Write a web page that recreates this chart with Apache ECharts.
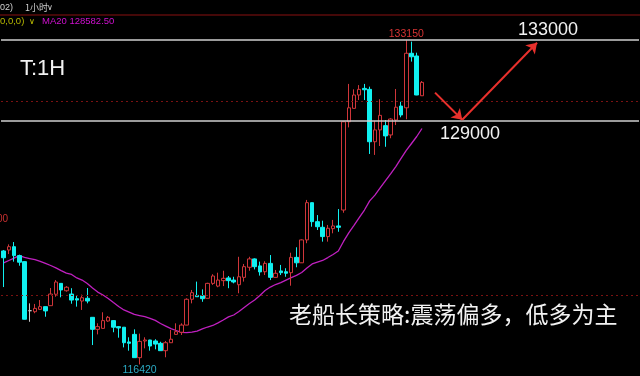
<!DOCTYPE html>
<html><head><meta charset="utf-8">
<script src="https://cdn.jsdelivr.net/npm/echarts@6/dist/echarts.min.js"></script>
<style>html,body{margin:0;padding:0;background:#000;}#c{width:640px;height:376px;}</style>
</head><body><div id="c"></div>
<script>
// ---- data (1H candles) ----
const opens = [122270,122320,122490,122030,121720,119190,119140,119260,119400,119450,
120040,120600,120220,120050,119810,119690,119830,118850,118230,118280,
118660,118680,118370,118340,117580,117970,116770,117630,117680,117630,
117510,117130,117540,117970,118080,118450,119780,119980,119960,119830,
120600,120460,120740,120880,120770,120530,120910,121430,121860,121500,
121200,121630,120910,121240,121200,121150,121940,121660,122840,124760,
123780,123490,123010,123420,123560,124380,128930,129620,130310,130650,
130600,127900,128510,128730,128250,129020,129740,129650,132460,132320,130270];
const closes = [121920,122490,122030,121690,118750,119190,119310,119400,119180,120050,
120670,120260,120400,119740,119740,119860,119690,118230,118370,118680,
118850,118340,118300,117540,117510,116770,117610,117680,117370,117470,
117130,117540,117720,118110,118450,119780,120120,119910,119810,120600,
120980,120770,120860,120740,120670,120940,121460,121860,121460,121190,
121630,120910,121120,121150,121120,121940,121660,122840,124760,123780,
123520,123010,123440,123560,123490,128930,129650,130310,130600,130580,
127900,128510,129260,128200,129070,129680,129280,132460,132280,130310,130960];
const lows = [120410,122110,121720,121510,118740,118620,119060,119230,118880,119440,
119910,119880,120170,119550,119400,119230,119570,117420,117970,118270,
118620,118080,117800,117300,117130,116760,116420,117250,117130,117200,
117120,116790,117530,117960,117940,118440,119570,119900,119650,119820,
120520,120400,120460,120350,120600,120090,120690,121250,121320,121000,
121030,120770,120900,121030,120940,120480,121430,121650,122670,123520,
123350,122750,122750,123180,123260,124240,128640,129610,130050,130050,
127270,127220,127680,127640,128080,128760,129160,129060,132030,130300,130260];
const highs = [122320,122610,122730,122080,121740,119570,119540,119740,119410,120360,
120770,120610,120460,120350,119950,120020,120360,118860,118540,119110,
118920,118690,118400,118350,117820,118230,118010,117820,117690,117720,
117590,117630,118200,118540,118540,119830,120260,120690,120290,120630,
121070,121150,121250,120980,120940,121970,121600,121970,121890,121720,
121740,122060,121290,121550,121380,122180,122460,122870,124900,124770,
124120,123830,123610,123870,124430,128970,130880,130600,130820,130880,
130740,128980,130090,129020,129110,130620,129960,133150,133060,132490,131030];
const ma20 = [121660,121780,121900,122030,121940,121880,121820,121730,121630,121520,
121400,121260,121130,121060,120880,120770,120590,120360,120150,120000,
119820,119610,119410,119230,119120,119000,118940,118880,118800,118690,
118530,118400,118270,118170,118070,118060,118090,118140,118250,118350,
118430,118560,118710,118870,118970,119150,119360,119560,119740,119970,
120230,120410,120540,120640,120770,120900,121010,121160,121390,121600,
121700,121780,121930,122090,122270,122760,123200,123590,123990,124380,
124850,125150,125520,125880,126240,126620,127040,127450,127810,128170,128582.5];
const levelLines = [133140, 129000];     // hand-drawn support / resistance
const gridPrices = [130000, 120000];     // dashed price grid
const arrowPath = [[82.5,130430],[87.7,129030],[102,133000]]; // [bar slot, price]
const targetLabels = ['133000', '129000'];
const slotCount = 122;                   // visible bar slots incl. empty future space
const categories = Array.from({length: slotCount}, (_, i) => 'K' + (i + 1));

const kdata = opens.map((o, i) => [o, closes[i], lows[i], highs[i]]);
const RED = '#d0363a', CYAN = '#10f0f0';

const chart = echarts.init(document.getElementById('c'), null, {renderer: 'canvas'});
chart.setOption({
  backgroundColor: '#000',
  animation: false,
  grid: {left: 1, right: 1, top: 0, bottom: 0},
  xAxis: [
    {type: 'category', data: categories, show: false, boundaryGap: true},
    {type: 'value', min: -0.5, max: slotCount - 0.5, show: false}
  ],
  yAxis: {type: 'value', min: 115825, max: 135206, show: false},
  series: [
    {
      type: 'candlestick', data: kdata, barWidth: 4, z: 3,
      itemStyle: {color: '#000', color0: CYAN, borderColor: RED, borderColor0: CYAN,
                  borderColorDoji: '#c8c8c8', borderWidth: 1},
      markLine: {
        silent: true, symbol: ['none', 'none'], label: {show: false},
        data: [
          {yAxis: gridPrices[0], lineStyle: {color: '#7a1212', type: [2, 3], width: 1}},
          {yAxis: gridPrices[1], lineStyle: {color: '#7a1212', type: [2, 3], width: 1}},
          {yAxis: levelLines[0], lineStyle: {color: '#cfcfcf', type: 'solid', width: 1.5}},
          {yAxis: levelLines[1], lineStyle: {color: '#cfcfcf', type: 'solid', width: 1.5}}
        ]
      },
      markPoint: {
        silent: true, symbol: 'circle', symbolSize: 1,
        itemStyle: {color: 'rgba(0,0,0,0)'},
        data: [
          {type: 'max', valueDim: 'highest',
           label: {show: true, position: 'top', distance: 0, formatter: '{c}', color: '#d83434',
                   fontSize: 10.5, fontFamily: 'Liberation Sans'}},
          {type: 'min', valueDim: 'lowest',
           label: {show: true, position: 'bottom', distance: 0, formatter: '{c}', color: '#2aaac4',
                   fontSize: 10.5, fontFamily: 'Liberation Sans'}}
        ]
      }
    },
    {
      type: 'line', data: ma20, showSymbol: false, symbol: 'none', z: 2,
      lineStyle: {color: '#c020c0', width: 1.3}
    },
    {
      type: 'lines', coordinateSystem: 'cartesian2d', xAxisIndex: 1, yAxisIndex: 0,
      symbol: ['none', 'arrow'], symbolSize: 10, silent: true, z: 5,
      lineStyle: {color: '#e8302c', width: 2, opacity: 1},
      data: [{coords: [arrowPath[0], arrowPath[1]]}, {coords: [arrowPath[1], arrowPath[2]]}]
    }
  ],
  graphic: [
    {type: 'line', shape: {x1: 0, y1: 15, x2: 640, y2: 15}, style: {stroke: '#8a1010', lineWidth: 1}, z: 10},
    {type: 'text', x: 0, y: 8, style: {text: '02)', fill: '#d0d0d0', font: '9px "Liberation Sans"', textVerticalAlign: 'middle'}, z: 10},
    {type: 'text', x: 25, y: 8, style: {text: '1小时', fill: '#d0d0d0', font: '9px "Noto Sans CJK SC"', textVerticalAlign: 'middle'}, z: 10},
    {type: 'text', x: 47, y: 8, style: {text: '∨', fill: '#d0d0d0', font: '8px "DejaVu Sans"', textVerticalAlign: 'middle'}, z: 10},
    {type: 'text', x: 0, y: 21, style: {text: '0,0,0)', fill: '#b8b800', font: '9.5px "Liberation Sans"', textVerticalAlign: 'middle'}, z: 10},
    {type: 'text', x: 29, y: 22, style: {text: '∨', fill: '#c8c800', font: '8px "DejaVu Sans"', textVerticalAlign: 'middle'}, z: 10},
    {type: 'text', x: 42, y: 21, style: {text: 'MA20 ' + ma20[ma20.length - 1].toFixed(2), fill: '#d010d0', font: '9.5px "Liberation Sans"', textVerticalAlign: 'middle'}, z: 10},
    {type: 'text', x: 8, y: 219, style: {text: '124000', fill: '#c83030', font: '10px "Liberation Sans"', textAlign: 'right', textVerticalAlign: 'middle'}, z: 10},
    {type: 'text', x: 20, y: 69, style: {text: 'T:1H', fill: '#f2f2f2', font: '22px "Liberation Sans"', textVerticalAlign: 'middle'}, z: 10},
    {type: 'text', x: 518, y: 30, style: {text: targetLabels[0], fill: '#f2f2f2', font: '18px "Liberation Sans"', textVerticalAlign: 'middle'}, z: 10},
    {type: 'text', x: 440, y: 134, style: {text: targetLabels[1], fill: '#f2f2f2', font: '18px "Liberation Sans"', textVerticalAlign: 'middle'}, z: 10},
    {type: 'text', x: 289, y: 314, style: {text: '老船长策略:震荡偏多，低多为主', fill: '#f2f2f2', font: '23px "Noto Sans CJK SC"', textVerticalAlign: 'middle'}, z: 10}
  ]
});
</script></body></html>
